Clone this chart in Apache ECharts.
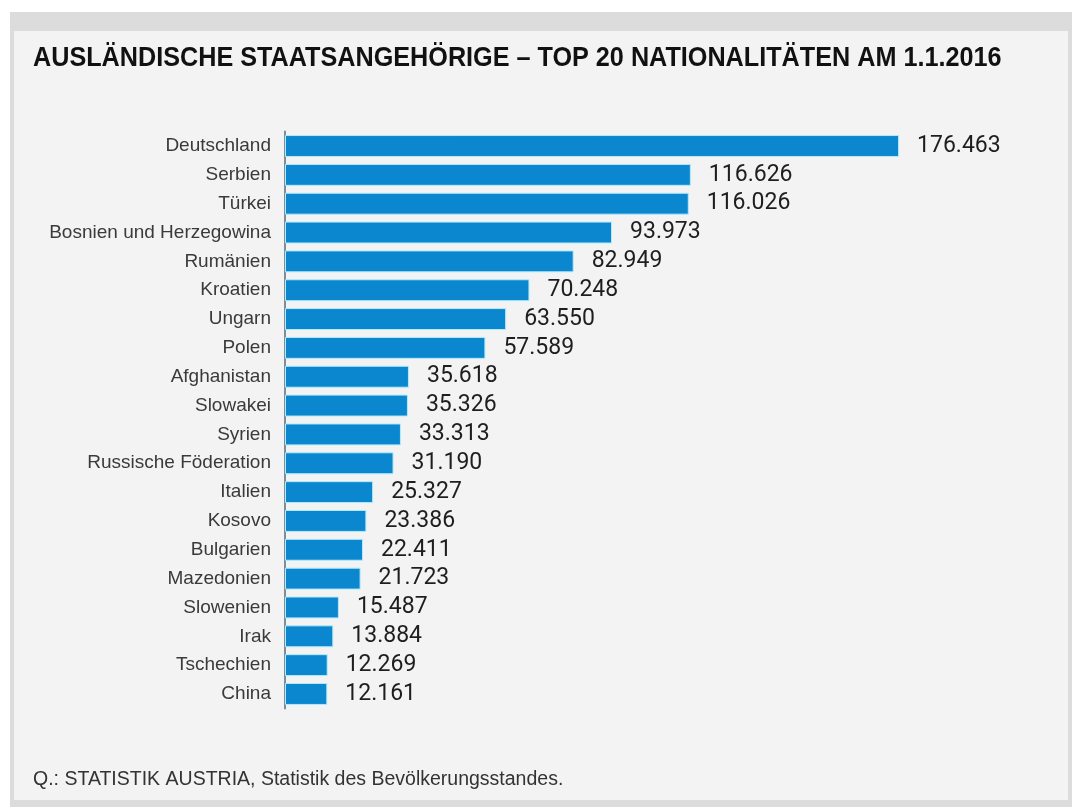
<!DOCTYPE html>
<html>
<head>
<meta charset="utf-8">
<script src="https://cdn.jsdelivr.net/npm/echarts@6/dist/echarts.min.js"></script>
<style>
	html, body {
		margin: 0;
		padding: 0;
		background: #ffffff;
	}

	#chart {
		width: 1072px;
		height: 807px;
	}
</style>
</head>
<body>
<div id="chart"></div>
<script>
	var countries = ['Deutschland', 'Serbien', 'Türkei', 'Bosnien und Herzegowina', 'Rumänien', 'Kroatien', 'Ungarn', 'Polen',
		'Afghanistan', 'Slowakei', 'Syrien', 'Russische Föderation', 'Italien', 'Kosovo', 'Bulgarien', 'Mazedonien',
		'Slowenien', 'Irak', 'Tschechien', 'China'];
	var persons = [176463, 116626, 116026, 93973, 82949, 70248, 63550, 57589,
		35618, 35326, 33313, 31190, 25327, 23386, 22411, 21723,
		15487, 13884, 12269, 12161];

	var titleText = 'AUSLÄNDISCHE STAATSANGEHÖRIGE – TOP 20 NATIONALITÄTEN AM 1.1.2016';
	var sourceText = 'Q.: STATISTIK AUSTRIA, Statistik des Bevölkerungsstandes.';

	// german thousands separator
	function fmt(v) {
		return String(v).replace(/\B(?=(\d{3})+(?!\d))/g, '.');
	}

	var chart = echarts.init(document.getElementById('chart'));

	var option = {
		animation: false,
		backgroundColor: '#ffffff',
		graphic: [
			// outer frame
			{ type: 'rect', shape: { x: 10, y: 12, width: 1062, height: 795 }, style: { fill: '#dcdcdc' }, silent: true, z: -10 },
			{ type: 'rect', shape: { x: 14, y: 31, width: 1054, height: 769 }, style: { fill: '#f3f3f3' }, silent: true, z: -9 },
			{
				type: 'text', x: 33, y: 44, scaleX: 0.9,
				style: {
					text: titleText, fill: '#111', verticalAlign: 'top',
					font: 'bold 28px "Liberation Sans", Arial, sans-serif'
				}
			},
			{
				type: 'text', x: 33, y: 770,
				style: {
					text: sourceText, fill: '#333', verticalAlign: 'top',
					font: '19.5px "Liberation Sans", Arial, sans-serif'
				}
			}
		],
		grid: {
			left: 285,
			right: 91,
			top: 131.6,
			bottom: 98.6,
			containLabel: false
		},
		xAxis: {
			type: 'value',
			min: 0,
			max: 200000,
			show: false
		},
		yAxis: {
			type: 'category',
			data: countries,
			inverse: true,
			axisLine: { show: true, lineStyle: { color: '#7d8d99', width: 2 } },
			axisTick: { show: false },
			axisLabel: {
				margin: 14,
				color: '#3a3a3a',
				fontFamily: '"Liberation Sans", sans-serif',
				fontSize: 19
			}
		},
		series: [{
			type: 'bar',
			data: persons,
			barCategoryGap: '24%',
			itemStyle: {
				color: '#0a87cf',
				borderColor: '#b3ebfa',
				borderWidth: 1
			},
			label: {
				show: true,
				position: 'right',
				distance: 18,
				color: '#1e1e1e',
				fontFamily: 'Roboto, sans-serif',
				fontSize: 23,
				formatter: function(p) {
					return fmt(p.value);
				}
			}
		}]
	};

	chart.setOption(option);
</script>
</body>
</html>
